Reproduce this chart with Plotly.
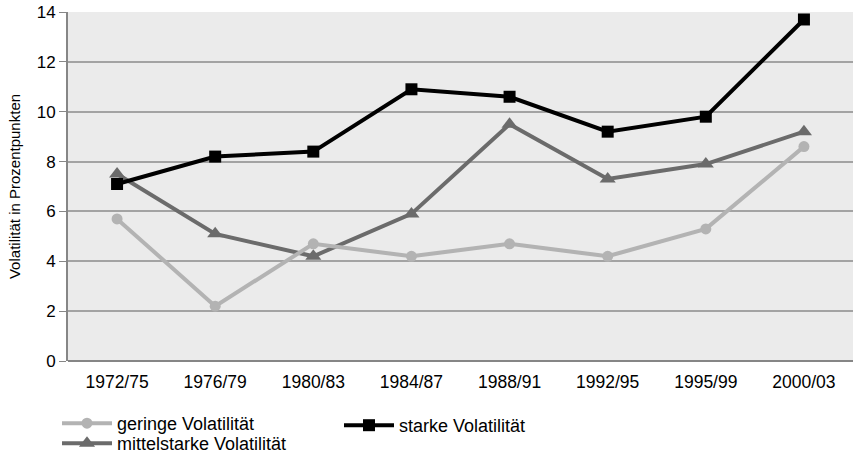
import plotly.graph_objects as go

perioden = ["1972/75", "1976/79", "1980/83", "1984/87", "1988/91", "1992/95", "1995/99", "2000/03"]
geringe = [5.7, 2.2, 4.7, 4.2, 4.7, 4.2, 5.3, 8.6]
mittelstarke = [7.5, 5.1, 4.2, 5.9, 9.5, 7.3, 7.9, 9.2]
starke = [7.1, 8.2, 8.4, 10.9, 10.6, 9.2, 9.8, 13.7]

fig = go.Figure()

fig.add_trace(go.Scatter(
    x=perioden, y=mittelstarke, name="mittelstarke Volatilität",
    mode="lines+markers", legend="legend3",
    line=dict(color="#6b6b6b", width=4),
    marker=dict(symbol="triangle-up", size=14, color="#6b6b6b")
))
fig.add_trace(go.Scatter(
    x=perioden, y=geringe, name="geringe Volatilität",
    mode="lines+markers", legend="legend",
    line=dict(color="#b3b3b3", width=4),
    marker=dict(symbol="circle", size=11, color="#b3b3b3")
))
fig.add_trace(go.Scatter(
    x=perioden, y=starke, name="starke Volatilität",
    mode="lines+markers", legend="legend2",
    line=dict(color="#000000", width=4),
    marker=dict(symbol="square", size=12, color="#000000")
))

leg_style = dict(
    orientation="v", xanchor="left", bgcolor="rgba(0,0,0,0)",
    font=dict(size=18, color="#000000"), itemwidth=50
)

# paper spans the whole picture; the plot area is placed with domains
fig.update_layout(
    width=853, height=462,
    margin=dict(l=0, r=0, t=12, b=0),
    paper_bgcolor="white",
    plot_bgcolor="#ebebeb",
    font=dict(family="Liberation Sans, Arial, sans-serif", size=17, color="#000000"),
    xaxis=dict(
        domain=[68 / 853, 1],
        showgrid=False, showline=False, automargin=False,
        ticks="outside", ticklen=5, tickcolor="rgba(0,0,0,0)",
        tickfont=dict(size=17.5), range=[-0.5, 7.5]
    ),
    yaxis=dict(
        domain=[101 / 450, 1],
        range=[0, 14], dtick=2, showgrid=True, gridcolor="#a3a3a3", gridwidth=2,
        showline=True, linecolor="#868686", linewidth=2, automargin=False,
        ticks="outside", ticklen=7, tickcolor="#868686", tickwidth=1,
        zeroline=True, zerolinecolor="#868686", zerolinewidth=2,
        tickfont=dict(size=17),
        title=dict(text="Volatilität in Prozentpunkten", font=dict(size=15), standoff=12)
    ),
    legend=dict(leg_style, x=57 / 853, y=57 / 450, yanchor="top"),
    legend2=dict(leg_style, x=339 / 853, y=55 / 450, yanchor="top"),
    legend3=dict(leg_style, x=57 / 853, y=0, yanchor="bottom"),
    showlegend=True
)

# page has a default 8px body margin; drop it so the figure sits at the corner
fig.write_html("out.html", config={"displayModeBar": False},
               post_script="document.body.style.margin='0';")
